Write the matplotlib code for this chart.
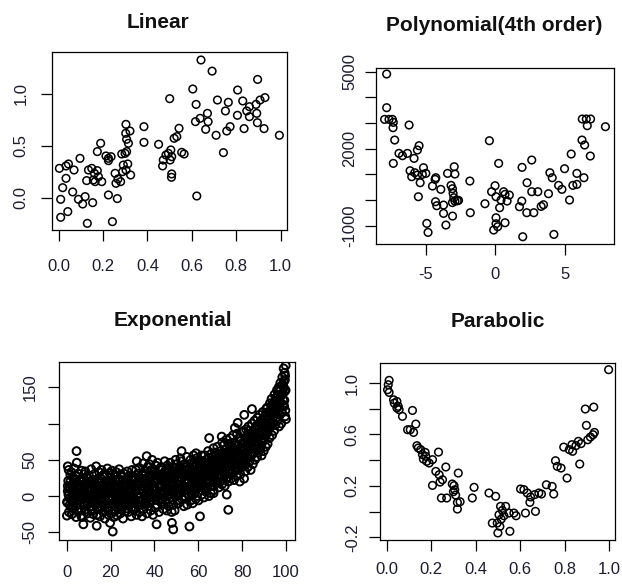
import matplotlib
matplotlib.use("Agg")
import matplotlib.pyplot as plt

plt.rcParams['font.family'] = ['Liberation Sans', 'DejaVu Sans']

# ---------------- data ----------------
titles = ["Linear", "Polynomial(4th order)", "Exponential", "Parabolic"]

lin_x = [0.641, 0.691, 0.896, 0.604, 0.806, 0.500, 0.715, 0.764, 0.829, 0.929,
         0.907, 0.619, 0.859, 0.889, 0.670, 0.751, 0.847, 0.805, 0.892, 0.859,
         0.637, 0.616, 0.673, 0.895, 0.662, 0.772, 0.757, 0.835, 0.925, 0.709,
         0.994, 0.742, 0.622, 0.303, 0.384, 0.321, 0.302, 0.306, 0.314, 0.384,
         0.450, 0.542, 0.532, 0.520, 0.554, 0.565, 0.505, 0.494, 0.509, 0.483,
         0.471, 0.468, 0.502, 0.509, 0.508, 0.189, 0.174, 0.096, 0.213, 0.224,
         0.236, 0.224, 0.299, 0.284, 0.306, 0.291, 0.311, 0.303, 0.288, 0.324,
         0.279, 0.254, 0.258, 0.224, 0.264, 0.242, 0.129, 0.041, 0.009, 0.009,
         0.003, 0.033, 0.044, 0.069, 0.033, 0.018, 0.063, 0.089, 0.108, 0.119,
         0.153, 0.134, 0.149, 0.161, 0.126, 0.156, 0.174, 0.179, 0.164, 0.194,
         0.267]
lin_y = [1.327, 1.220, 1.140, 1.048, 1.038, 0.955, 0.942, 0.920, 0.933, 0.965,
         0.942, 0.900, 0.878, 0.900, 0.814, 0.837, 0.837, 0.795, 0.814, 0.782,
         0.766, 0.734, 0.734, 0.724, 0.660, 0.686, 0.644, 0.667, 0.667, 0.603,
         0.603, 0.436, 0.019, 0.708, 0.686, 0.644, 0.622, 0.564, 0.526, 0.535,
         0.516, 0.670, 0.590, 0.574, 0.439, 0.423, 0.462, 0.429, 0.397, 0.413,
         0.365, 0.308, 0.365, 0.231, 0.199, 0.526, 0.446, 0.381, 0.404, 0.381,
         0.397, 0.359, 0.429, 0.423, 0.446, 0.317, 0.327, 0.269, 0.253, 0.221,
         0.157, 0.237, 0.141, 0.029, -0.006, -0.228, -0.244, -0.131, -0.186, -0.013,
         0.285, 0.308, 0.327, 0.269, 0.189, 0.099, 0.058, -0.013, -0.058, 0.013,
         -0.045, 0.269, 0.285, 0.237, 0.167, 0.173, 0.263, 0.205, 0.157, 0.157,
         0.183]

poly_x = [-7.85, -7.85, -8.00, -7.68, -7.44, -7.37, -7.39, -7.27, -6.23, -7.37,
          -6.96, -6.71, -6.35, -5.51, -5.63, -5.87, -6.16, -5.82, -6.04, -5.63,
          -5.19, -5.02, -5.27, -5.43, -5.56, -4.30, -4.54, -4.35, -4.32, -4.23,
          -3.94, -3.74, -3.74, -3.57, -3.09, -3.45, -2.97, -2.92, -3.20, -3.10,
          -3.05, -3.00, -2.92, -3.10, -2.75, -2.66, -4.95, -4.86, -1.84, -1.81,
          -0.75, -0.43, 0.24, -0.02, -0.27, 0.05, 0.41, 0.60, 0.70, 1.01,
          0.85, 0.31, 0.05, 0.05, 0.70, -0.12, 0.17, 1.93, 2.63, 2.29,
          1.91, 1.74, 2.27, 2.78, 2.63, 3.07, 1.98, 3.31, 3.48, 3.84,
          3.94, 4.11, 4.57, 4.81, 5.00, 5.48, 5.36, 5.60, 5.89, 5.89,
          6.26, 6.45, 6.40, 6.28, 6.57, 6.88, 6.64, 6.86, 7.95, 4.23]
poly_y = [4909, 3597, 3142, 3142, 3142, 3026, 2818, 2337, 2922, 1428,
          1818, 1727, 1818, 2116, 1948, 1623, 1142, 1064, 908, 973,
          1259, 1038, 999, 674, 129, 869, 545, 804, -66, -222,
          415, -521, -196, -975, -625, 1038, 1298, 1012, 570, 440,
          260, 90, -40, -100, -30, -12, -910, -1261, 740, -494,
          -144, 2311, 1428, 558, 324, 129, 0, 324, 220, 194,
          -40, -300, -690, -924, -885, -1170, -1040, 1272, 1558, 674,
          -40, -261, -494, -494, 324, 324, -1430, -248, -183, 246,
          1064, 869, 571, 415, 1220, 1792, 0, 571, 610, 1038,
          2337, 2142, 869, 3156, 3156, 3156, 2896, 1714, 2857, -1339]

# exponential cloud: outer band of the point mass
exp_x = [
    0.1, 0.3, 0.5, 0.7, 0.9, 1.05, 1.25, 1.45, 1.7, 1.85, 2.15, 2.35, 2.6, 2.8, 2.95, 3.0, 3.2, 3.4, 3.65, 3.9,
    4.1, 4.3, 4.5, 4.7, 4.9, 5.05, 5.25, 5.45, 5.7, 5.85, 6.15, 6.35, 6.6, 6.8, 6.95, 7.0, 7.2, 7.4, 7.65, 7.9,
    8.1, 8.3, 8.5, 8.7, 8.9, 9.05, 9.25, 9.45, 9.7, 9.85,
    10.15, 10.35, 10.6, 10.8, 10.95, 11.0, 11.2, 11.4, 11.65, 11.9, 12.1, 12.3, 12.5, 12.7, 12.9, 13.05, 13.25, 13.45, 13.7, 13.85,
    14.15, 14.35, 14.6, 14.8, 14.95, 15.0, 15.2, 15.4, 15.65, 15.9, 16.1, 16.3, 16.5, 16.7, 16.9, 17.05, 17.25, 17.45, 17.7, 17.85,
    18.15, 18.35, 18.6, 18.8, 18.95, 19.0, 19.2, 19.4, 19.65, 19.9,
    20.1, 20.3, 20.5, 20.7, 20.9, 21.05, 21.25, 21.45, 21.7, 21.85, 22.15, 22.35, 22.6, 22.8, 22.95, 23.0, 23.2, 23.4, 23.65, 23.9,
    24.1, 24.3, 24.5, 24.7, 24.9, 25.05, 25.25, 25.45, 25.7, 25.85, 26.15, 26.35, 26.6, 26.8, 26.95, 27.0, 27.2, 27.4, 27.65, 27.9,
    28.1, 28.3, 28.5, 28.7, 28.9, 29.05, 29.25, 29.45, 29.7, 29.85,
    30.15, 30.35, 30.6, 30.8, 30.95, 31.0, 31.2, 31.4, 31.65, 31.9, 32.1, 32.3, 32.5, 32.7, 32.9, 33.05, 33.25, 33.45, 33.7, 33.85,
    34.15, 34.35, 34.6, 34.8, 34.95, 35.0, 35.2, 35.4, 35.65, 35.9, 36.1, 36.3, 36.5, 36.7, 36.9, 37.05, 37.25, 37.45, 37.7, 37.85,
    38.15, 38.35, 38.6, 38.8, 38.95, 39.0, 39.2, 39.4, 39.65, 39.9,
    40.1, 40.3, 40.5, 40.7, 40.9, 41.05, 41.25, 41.45, 41.7, 41.85, 42.15, 42.35, 42.6, 42.8, 42.95, 43.0, 43.2, 43.4, 43.65, 43.9,
    44.1, 44.3, 44.5, 44.7, 44.9, 45.05, 45.25, 45.45, 45.7, 45.85, 46.15, 46.35, 46.6, 46.8, 46.95, 47.0, 47.2, 47.4, 47.65, 47.9,
    48.1, 48.3, 48.5, 48.7, 48.9, 49.05, 49.25, 49.45, 49.7, 49.85,
    50.15, 50.35, 50.6, 50.8, 50.95, 51.0, 51.2, 51.4, 51.65, 51.9, 52.1, 52.3, 52.5, 52.7, 52.9, 53.05, 53.25, 53.45, 53.7, 53.85,
    54.15, 54.35, 54.6, 54.8, 54.95, 55.0, 55.2, 55.4, 55.65, 55.9, 56.1, 56.3, 56.5, 56.7, 56.9, 57.05, 57.25, 57.45, 57.7, 57.85,
    58.15, 58.35, 58.6, 58.8, 58.95, 59.0, 59.2, 59.4, 59.65, 59.9,
    60.1, 60.3, 60.5, 60.7, 60.9, 61.05, 61.25, 61.45, 61.7, 61.85, 62.15, 62.35, 62.6, 62.8, 62.95, 63.0, 63.2, 63.4, 63.65, 63.9,
    64.1, 64.3, 64.5, 64.7, 64.9, 65.05, 65.25, 65.45, 65.7, 65.85, 66.15, 66.35, 66.6, 66.8, 66.95, 67.0, 67.2, 67.4, 67.65, 67.9,
    68.1, 68.3, 68.5, 68.7, 68.9, 69.05, 69.25, 69.45, 69.7, 69.85,
    70.15, 70.35, 70.6, 70.8, 70.95, 71.0, 71.2, 71.4, 71.65, 71.9, 72.1, 72.3, 72.5, 72.7, 72.9, 73.05, 73.25, 73.45, 73.7, 73.85,
    74.15, 74.35, 74.6, 74.8, 74.95, 75.0, 75.2, 75.4, 75.65, 75.9, 76.1, 76.3, 76.5, 76.7, 76.9, 77.05, 77.25, 77.45, 77.7, 77.85,
    78.15, 78.35, 78.6, 78.8, 78.95, 79.0, 79.2, 79.4, 79.65, 79.9,
    80.1, 80.3, 80.5, 80.7, 80.9, 81.05, 81.25, 81.45, 81.7, 81.85, 82.15, 82.35, 82.6, 82.8, 82.95, 83.0, 83.2, 83.4, 83.65, 83.9,
    84.1, 84.3, 84.5, 84.7, 84.9, 85.05, 85.25, 85.45, 85.7, 85.85, 86.15, 86.35, 86.6, 86.8, 86.95, 87.0, 87.2, 87.4, 87.65, 87.9,
    88.1, 88.3, 88.5, 88.7, 88.9, 89.05, 89.25, 89.45, 89.7, 89.85,
    90.15, 90.35, 90.6, 90.8, 90.95, 91.0, 91.2, 91.4, 91.65, 91.9, 92.1, 92.3, 92.5, 92.7, 92.9, 93.05, 93.25, 93.45, 93.7, 93.85,
    94.15, 94.35, 94.6, 94.8, 94.95, 95.0, 95.2, 95.4, 95.65, 95.9, 96.1, 96.3, 96.5, 96.7, 96.9, 97.05, 97.25, 97.45, 97.7, 97.85,
    98.15, 98.35, 98.6, 98.8, 98.95, 99.0, 99.2, 99.4, 99.65, 99.9,
    99.3, 99.55, 99.75, 99.85, 100.0,
    4.5, 0.5, 4.6, 7.6, 13.7, 19.8, 21.0, 32.0, 36.5, 41.0, 48.0, 48.6, 52.4,
    56.0, 59.0, 60.8, 65.0, 67.0, 70.7, 73.0, 73.7, 76.7, 78.0, 81.0, 84.5]
exp_y = [
    -27, -9, 7, 21, 36, -22, -3, 13, 29, -15, 33, -25, 1, 17, 25, -17, 11, 38, -7, 3,
    19, -29, 27, -1, 9, -11, 31, -21, 15, 5, 23, -5, -27, 35, 13, -29, 5, 20, -13, 30,
    9, -19, 34, -3, 17, -7, 26, -24, 12, 0,
    28, -15, 8, -30, 19, 2, 37, -9, 22, -20, -25, 14, 30, -1, 6, 18, -12, 41, -26, 10,
    -5, 24, -18, 33, 3, 12, -28, 20, -8, 36, -16, 7, 27, -22, 15, 30, -4, -31, 18, 1,
    -10, 21, 38, -19, 8, 4, -26, 16, 32, -6,
    25, -14, 0, 35, -23, -2, 19, -29, 11, 29, 14, -20, 33, -7, 4, -27, 8, 23, -12, 37,
    20, -3, -24, 30, 10, -15, 26, 6, -31, 16, 31, -9, 13, -21, -1, 2, 22, -17, 34, -8,
    -22, 15, 28, -4, 9, 17, -11, -28, 24, 36,
    -6, 27, 5, -19, 12, 25, -16, 8, 36, -26, -10, 14, 31, -2, 20, 39, -22, 4, 17, -12,
    10, -28, 28, -5, 45, -18, 22, 0, 34, 12, 30, -8, 16, -24, 40, -14, 6, 26, 44, -2,
    18, -20, 36, 4, 50, -6, 28, -26, 14, 22,
    34, 8, -16, 42, 0, 20, -12, 46, 2, 28, -22, 12, 36, -4, 24, 40, 16, -10, 30, 4,
    -18, 26, 8, 48, 14, 32, -6, 20, -20, 42, 10, 38, -14, 24, 2, -8, 46, 18, 30, -22,
    28, 6, 40, -12, 16, 14, -20, 34, 50, 0,
    44, 22, -6, 32, 10, -10, 16, 38, 4, 52, 26, 48, -4, 12, 34, 6, 30, -14, 44, 20,
    40, -2, 22, 54, 10, -12, 18, 36, 28, 2, 32, 8, 50, -6, 24, 16, 42, -10, 28, 56,
    46, 4, 30, 14, -4, 22, 52, 0, 38, 12,
    -6, 34, 18, 48, 26, 40, 14, 56, 2, 28, 22, 48, -2, 34, 10, 56, 26, 6, 42, 18,
    12, 38, 62, 30, 0, 46, 20, 34, 4, 58, 28, 54, 14, 40, 66, 8, 44, 32, 60, 22,
    50, 18, 38, 68, 30, 26, 58, 12, 44, 36,
    62, 30, 48, 16, 74, 34, 56, 22, 70, 44, 14, 46, 64, 30, 78, 52, 26, 40, 72, 20,
    60, 36, 80, 48, 24, 30, 68, 42, 56, 84, 50, 22, 74, 38, 62, 70, 44, 28, 86, 54,
    36, 62, 80, 48, 20, 58, 30, 76, 44, 88,
    40, 66, 52, 90, 24, 72, 46, 34, 60, 92, 54, 82, 40, 68, 96, 64, 90, 48, 76, 36,
    80, 56, 100, 68, 44, 60, 88, 74, 104, 50, 92, 66, 80, 54, 108, 72, 98, 60, 84, 112,
    86, 64, 104, 76, 56, 98, 74, 116, 88, 62,
    80, 110, 94, 68, 120, 104, 86, 122, 72, 96, 92, 116, 80, 128, 102, 112, 96, 134, 84, 120,
    100, 126, 90, 140, 114, 118, 98, 132, 108, 146, 104, 140, 122, 150, 96, 130, 112, 156, 138, 100,
    116, 164, 142, 126, 176, 150, 124, 170, 110, 180,
    132, 160, 118, 146, 106,
    62, 41, 46, -39, -41, -37, -49, 48, 55, -39, -37, -46, 62,
    -42, 59, -28, 80, 4, 82, 2, -19, 94, 101, 112, 120]

# exponential cloud: dense core of the point mass
exp_core_x = [
    0.2, 0.5, 0.8, 1.05, 1.4, 1.65, 2.2, 2.5, 2.8, 3.05, 3.4, 3.65, 4.2, 4.5, 4.8, 5.05, 5.4, 5.65, 6.2, 6.5, 6.8, 7.05, 7.4, 7.65, 8.2, 8.5, 8.8, 9.05, 9.4, 9.65,
    10.2, 10.5, 10.8, 11.05, 11.4, 11.65, 12.2, 12.5, 12.8, 13.05, 13.4, 13.65, 14.2, 14.5, 14.8, 15.05, 15.4, 15.65, 16.2, 16.5, 16.8, 17.05, 17.4, 17.65, 18.2, 18.5, 18.8, 19.05, 19.4, 19.65,
    20.2, 20.5, 20.8, 21.05, 21.4, 21.65, 22.2, 22.5, 22.8, 23.05, 23.4, 23.65, 24.2, 24.5, 24.8, 25.05, 25.4, 25.65, 26.2, 26.5, 26.8, 27.05, 27.4, 27.65, 28.2, 28.5, 28.8, 29.05, 29.4, 29.65,
    30.2, 30.5, 30.8, 31.05, 31.4, 31.65, 32.2, 32.5, 32.8, 33.05, 33.4, 33.65, 34.2, 34.5, 34.8, 35.05, 35.4, 35.65, 36.2, 36.5, 36.8, 37.05, 37.4, 37.65, 38.2, 38.5, 38.8, 39.05, 39.4, 39.65,
    40.2, 40.5, 40.8, 41.05, 41.4, 41.65, 42.2, 42.5, 42.8, 43.05, 43.4, 43.65, 44.2, 44.5, 44.8, 45.05, 45.4, 45.65, 46.2, 46.5, 46.8, 47.05, 47.4, 47.65, 48.2, 48.5, 48.8, 49.05, 49.4, 49.65,
    50.2, 50.5, 50.8, 51.05, 51.4, 51.65, 52.2, 52.5, 52.8, 53.05, 53.4, 53.65, 54.2, 54.5, 54.8, 55.05, 55.4, 55.65, 56.2, 56.5, 56.8, 57.05, 57.4, 57.65, 58.2, 58.5, 58.8, 59.05, 59.4, 59.65,
    60.2, 60.5, 60.8, 61.05, 61.4, 61.65, 62.2, 62.5, 62.8, 63.05, 63.4, 63.65, 64.2, 64.5, 64.8, 65.05, 65.4, 65.65, 66.2, 66.5, 66.8, 67.05, 67.4, 67.65, 68.2, 68.5, 68.8, 69.05, 69.4, 69.65,
    70.2, 70.5, 70.8, 71.05, 71.4, 71.65, 72.2, 72.5, 72.8, 73.05, 73.4, 73.65, 74.2, 74.5, 74.8, 75.05, 75.4, 75.65, 76.2, 76.5, 76.8, 77.05, 77.4, 77.65, 78.2, 78.5, 78.8, 79.05, 79.4, 79.65,
    80.2, 80.5, 80.8, 81.05, 81.4, 81.65, 82.2, 82.5, 82.8, 83.05, 83.4, 83.65, 84.2, 84.5, 84.8, 85.05, 85.4, 85.65, 86.2, 86.5, 86.8, 87.05, 87.4, 87.65, 88.2, 88.5, 88.8, 89.05, 89.4, 89.65,
    90.2, 90.5, 90.8, 91.05, 91.4, 91.65, 92.2, 92.5, 92.8, 93.05, 93.4, 93.65, 94.2, 94.5, 94.8, 95.05, 95.4, 95.65, 96.2, 96.5, 96.8, 97.05, 97.4, 97.65, 98.2, 98.5, 98.8, 99.05, 99.4, 99.65]
exp_core_y = [
    -8, 14, 2, 10, -12, 20, -4, 8, -16, 16, -2, 24, -14, 4, 12, 18, -6, 0, -10, 10, -20, 6, 22, -4, -12, 0, 14, 20, -8, 6,
    -2, 12, -14, 8, -18, 16, -6, 22, 2, 12, -10, 4, -16, 8, 18, 2, -4, 24, 14, -12, -2, -8, 10, 20, 4, -16, 14, -10, 20, 0,
    10, -6, 18, -12, 4, 14, 22, -2, -16, 0, 12, -8, -4, 16, -18, 8, -10, 22, -14, 2, 12, 18, -6, 6, -2, 10, -12, 4, -16, 16,
    14, -4, 22, -8, 8, 18, 2, -12, 26, 20, -2, 10, -6, 14, 30, 8, -10, 24, 0, 18, -4, 12, -8, 28, 24, 2, -6, 10, 30, -2,
    18, -2, 28, 8, 24, -6, 30, 4, 16, 12, -4, 26, 2, 20, 34, 14, 28, 0, 22, 6, 36, 10, 26, -2, 32, 18, 4, 24, 8, 38,
    16, 30, 2, 26, 10, 40, 20, 36, 6, 30, 14, 0, 8, 28, 42, 22, 38, 12, 14, 30, 4, 36, 22, 8, 24, 40, 18, 10, 28, 44,
    30, 16, 42, 20, 38, 48, 28, 44, 14, 34, 20, 50, 22, 46, 36, 40, 28, 14, 32, 50, 22, 42, 26, 54, 36, 48, 20, 44, 28, 54,
    40, 54, 28, 48, 32, 60, 38, 56, 44, 60, 34, 46, 44, 62, 52, 50, 36, 66, 58, 44, 70, 46, 64, 38, 56, 70, 42, 52, 66, 40,
    58, 74, 46, 64, 50, 80, 70, 56, 84, 62, 80, 72, 74, 88, 60, 78, 66, 92, 84, 70, 98, 76, 94, 86, 90, 78, 100, 84, 102, 94,
    96, 84, 106, 100, 112, 90, 108, 94, 118, 104, 116, 126, 120, 110, 130, 124, 114, 136, 132, 118, 144, 126, 146, 138, 140, 154, 132, 158, 144, 166]

par_x = [0.997, 0.010, 0.006, 0.003, 0.010, 0.030, 0.045, 0.033, 0.051, 0.045,
         0.055, 0.070, 0.115, 0.130, 0.093, 0.105, 0.120, 0.135, 0.141, 0.152,
         0.172, 0.160, 0.175, 0.164, 0.179, 0.190, 0.232, 0.205, 0.220, 0.235,
         0.265, 0.250, 0.239, 0.205, 0.245, 0.269, 0.294, 0.302, 0.305, 0.299,
         0.309, 0.317, 0.329, 0.317, 0.321, 0.392, 0.384, 0.459, 0.489, 0.511,
         0.519, 0.504, 0.526, 0.514, 0.496, 0.508, 0.499, 0.553, 0.474, 0.534,
         0.549, 0.571, 0.601, 0.616, 0.631, 0.646, 0.664, 0.683, 0.695, 0.717,
         0.743, 0.750, 0.643, 0.668, 0.581, 0.623, 0.758, 0.766, 0.783, 0.810,
         0.795, 0.820, 0.832, 0.835, 0.850, 0.861, 0.873, 0.867, 0.897, 0.892,
         0.930, 0.903, 0.915, 0.927, 0.933]
par_y = [1.104, 1.021, 0.987, 0.948, 0.927, 0.870, 0.857, 0.844, 0.819, 0.806,
         0.793, 0.741, 0.787, 0.681, 0.637, 0.637, 0.616, 0.513, 0.495, 0.482,
         0.461, 0.443, 0.430, 0.409, 0.391, 0.378, 0.463, 0.404, 0.313, 0.287,
         0.347, 0.248, 0.230, 0.204, 0.106, 0.106, 0.215, 0.202, 0.170, 0.155,
         0.129, 0.071, 0.077, 0.020, 0.300, 0.189, 0.106, 0.145, 0.119, 0.041,
         0.010, -0.024, -0.032, -0.058, -0.089, -0.115, -0.166, -0.153, -0.089, 0.041,
         -0.011, -0.011, 0.176, 0.171, 0.145, 0.114, 0.132, 0.145, 0.137, 0.209,
         0.196, 0.137, 0.072, 0.002, -0.032, -0.011, 0.396, 0.352, 0.339, 0.261,
         0.502, 0.482, 0.521, 0.469, 0.513, 0.547, 0.529, 0.370, 0.671, 0.798,
         0.813, 0.559, 0.580, 0.598, 0.616]

lin_xticks = [0.0, 0.2, 0.4, 0.6, 0.8, 1.0]
lin_xlabels = ["0.0", "0.2", "0.4", "0.6", "0.8", "1.0"]
lin_yticks = [0.0, 0.5, 1.0]
lin_ylabels = ["0.0", "0.5", "1.0"]
poly_xticks = [-5, 0, 5]
poly_xlabels = ["-5", "0", "5"]
poly_yticks = [-1000, 0, 1000, 2000, 3000, 4000, 5000]
poly_ylabels = ["-1000", "", "", "2000", "", "", "5000"]
exp_xticks = [0, 20, 40, 60, 80, 100]
exp_xlabels = ["0", "20", "40", "60", "80", "100"]
exp_yticks = [-50, 0, 50, 100, 150]
exp_ylabels = ["-50", "0", "50", "", "150"]
par_xticks = [0.0, 0.2, 0.4, 0.6, 0.8, 1.0]
par_xlabels = ["0.0", "0.2", "0.4", "0.6", "0.8", "1.0"]
par_yticks = [-0.2, 0.0, 0.2, 0.4, 0.6, 0.8, 1.0]
par_ylabels = ["-0.2", "", "0.2", "", "0.6", "", "1.0"]

# ---------------- drawing ----------------
W, H = 622, 586
fig = plt.figure(figsize=(W / 100, H / 100), dpi=100)
LBL = '#1c1c30'


def make_axes(left, top, right, bottom):
    return fig.add_axes([left / W, 1 - bottom / H, (right - left) / W, (bottom - top) / H])


def draw(box, xs, ys, xlim, ylim, xt, xl, yt, yl, xpad, ypad, title, tx, tbase,
         msize=30, mlw=1.1):
    ax = make_axes(*box)
    ax.scatter(xs, ys, s=msize, facecolors='none', edgecolors='black', linewidths=mlw)
    ax.set_xlim(*xlim)
    ax.set_ylim(*ylim)
    ax.set_xticks(xt)
    ax.set_xticklabels(xl)
    ax.set_yticks(yt)
    ax.set_yticklabels(yl, rotation=90, va='center')
    ax.tick_params(direction='out', length=7.7, width=0.9, labelsize=12,
                   labelcolor=LBL, color='black')
    ax.tick_params(axis='x', pad=xpad)
    ax.tick_params(axis='y', pad=ypad)
    for s in ax.spines.values():
        s.set_linewidth(0.9)
    fig.text(tx / W, 1 - tbase / H, title, ha='center', va='baseline',
             fontsize=15, fontweight='bold', color='#111111')
    return ax


draw((51.7, 52.3, 287.3, 230.0), lin_x, lin_y, (-0.0315, 1.0297), (-0.308, 1.401),
     lin_xticks, lin_xlabels, lin_yticks, lin_ylabels, 13.0, 9.0, titles[0], 158.0, 28.3)
draw((376.0, 68.3, 613.7, 244.0), poly_x, poly_y, (-8.62, 8.55), (-1713, 5132),
     poly_xticks, poly_xlabels, poly_yticks, poly_ylabels, 8.7, 5.6, titles[1], 494.0, 30.7)
draw((59.0, 362.0, 294.7, 539.7), exp_x + exp_core_x, exp_y + exp_core_y,
     (-3.5, 104.0), (-60.2, 184.9),
     exp_xticks, exp_xlabels, exp_yticks, exp_ylabels, 10.4, 7.9, titles[2], 173.3, 326.3,
     msize=32, mlw=1.4)
draw((380.0, 363.0, 615.0, 540.3), par_x, par_y, (-0.031, 1.0256), (-0.223, 1.156),
     par_xticks, par_xlabels, par_yticks, par_ylabels, 7.8, 6.8, titles[3], 497.7, 327.3)

fig.savefig("out.png", dpi=100)
